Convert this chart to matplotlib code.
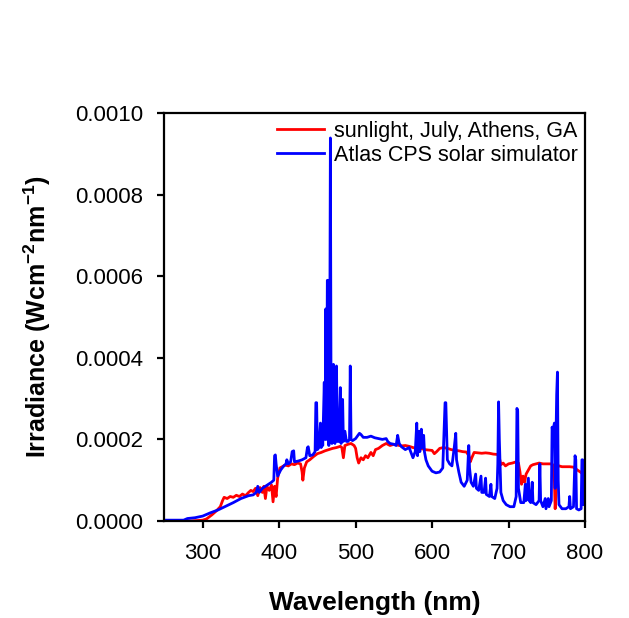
import matplotlib
matplotlib.use("Agg")
import matplotlib.pyplot as plt
import numpy as np

plt.rcParams['font.family'] = ['Liberation Sans', 'DejaVu Sans']
plt.rcParams['mathtext.fontset'] = 'custom'
plt.rcParams['mathtext.bf'] = 'Liberation Sans:bold'
plt.rcParams['mathtext.rm'] = 'Liberation Sans:bold'
plt.rcParams['mathtext.default'] = 'bf'

# Sunlight, July, Athens GA  (wavelength nm, irradiance in 1e-4 W cm^-2 nm^-1)
sun_wl = [250, 285, 300, 305, 312, 318, 323, 326, 328, 332, 336, 340, 344, 348, 352, 356, 360, 363, 366, 369,
          372, 375, 378, 380, 382, 384, 387, 390, 392, 394, 396, 398, 401, 404, 408, 412, 416, 420, 424, 428,
          430, 431, 433, 436, 440, 445, 450, 455, 460, 465, 470, 475, 480, 482, 484, 486, 490, 494, 498, 500,
          502, 504, 507, 510, 513, 516, 520, 523, 526, 530, 535, 540, 545, 550, 555, 560, 565, 570, 575, 580,
          585, 590, 595, 600, 603, 606, 610, 615, 620, 625, 630, 635, 640, 645, 648, 650, 652, 655, 660, 665,
          670, 675, 680, 686, 688, 690, 693, 696, 700, 705, 710, 713, 715, 717, 719, 721, 723, 726, 729, 732,
          736, 740, 745, 750, 755, 758, 760, 761, 762, 763, 766, 770, 775, 780, 785, 790, 794, 797, 800]
sun_val = [0.0, 0.0, 0.02, 0.05, 0.15, 0.25, 0.35, 0.5, 0.58, 0.55, 0.6, 0.58, 0.63, 0.6, 0.66, 0.62, 0.7, 0.75, 0.72, 0.8,
           0.62, 0.82, 0.7, 0.85, 0.55, 0.85, 0.75, 0.88, 0.47, 0.85, 0.6, 1.05, 1.3, 1.33, 1.37, 1.35, 1.4, 1.38, 1.42, 1.4,
           1.2, 1.0, 1.3, 1.45, 1.5, 1.58, 1.65, 1.68, 1.72, 1.75, 1.78, 1.8, 1.83, 1.8, 1.55, 1.85, 1.88, 1.9, 1.85, 1.78,
           1.55, 1.42, 1.55, 1.5, 1.6, 1.55, 1.68, 1.6, 1.75, 1.78, 1.85, 1.9, 1.85, 1.88, 1.86, 1.84, 1.85, 1.83, 1.8, 1.78,
           1.78, 1.75, 1.74, 1.73, 1.65, 1.7, 1.78, 1.8, 1.78, 1.75, 1.73, 1.72, 1.7, 1.69, 1.6, 1.45, 1.55, 1.68, 1.67, 1.66,
           1.67, 1.66, 1.64, 1.63, 1.55, 1.38, 1.42, 1.35, 1.4, 1.42, 1.45, 1.42, 1.2, 0.9, 1.1, 0.95, 1.15, 1.25, 1.35, 1.38,
           1.4, 1.42, 1.4, 1.4, 1.4, 1.38, 1.0, 0.3, 0.6, 1.35, 1.35, 1.33, 1.33, 1.33, 1.32, 1.25, 1.2, 1.15, 1.1]

# Atlas CPS solar simulator
sim_wl = [250, 275, 280, 290, 300, 310, 320, 330, 340, 350, 360, 366, 370, 372, 374, 378, 382, 386, 390, 393,
          394, 395, 396, 398, 402, 406, 409, 410, 412, 415, 417, 419, 420, 425, 430, 435, 437, 438, 440, 444,
          447, 448, 449, 450, 452, 454, 455, 456, 457, 459, 460, 461, 462, 463, 464, 465, 466, 467, 468, 469,
          471, 472, 473, 475, 476, 477, 478, 480, 481, 483, 484, 486, 488, 490, 492, 493, 494, 496, 500, 505,
          507, 510, 515, 520, 525, 530, 535, 540, 542, 545, 550, 553, 555, 557, 560, 565, 570, 573, 575, 578,
          580, 581, 583, 584, 586, 587, 589, 590, 592, 595, 600, 605, 610, 614, 617, 618, 620, 623, 626, 629,
          631, 632, 635, 638, 642, 646, 648, 649, 651, 654, 657, 658, 661, 664, 665, 668, 670, 671, 675, 677,
          678, 682, 685, 686, 687, 688, 690, 693, 697, 702, 707, 710, 711, 712, 713, 716, 720, 722, 723, 726,
          727, 729, 731, 732, 736, 740, 741, 742, 745, 748, 749, 752, 753, 756, 757, 758, 760, 761, 763, 764,
          765, 766, 770, 775, 779, 780, 781, 785, 787, 788, 789, 792, 795, 796, 797, 798, 800]
sim_val = [0.02, 0.02, 0.06, 0.08, 0.12, 0.2, 0.27, 0.36, 0.45, 0.55, 0.62, 0.64, 0.7, 0.85, 0.7, 0.8, 0.85, 0.9, 0.95, 1.0,
           1.6, 1.62, 1.4, 1.1, 1.25, 1.35, 1.4, 1.5, 1.4, 1.45, 1.7, 1.72, 1.45, 1.47, 1.5, 1.55, 1.8, 1.82, 1.6, 1.62,
           1.7, 2.9, 2.9, 1.75, 1.8, 2.4, 1.8, 2.3, 1.85, 3.4, 2.0, 5.2, 2.0, 5.9, 5.9, 1.85, 3.0, 9.39, 2.0, 1.9,
           3.84, 1.95, 1.9, 3.8, 1.95, 2.5, 1.95, 3.27, 1.9, 2.98, 1.95, 2.2, 1.95, 1.95, 2.0, 3.8, 2.0, 1.97, 2.02, 2.15,
           2.12, 2.05, 2.05, 2.08, 2.04, 2.02, 2.0, 2.02, 1.95, 1.9, 1.88, 1.85, 2.1, 1.9, 1.82, 1.75, 1.8, 1.65, 1.55, 1.7,
           2.4, 1.6, 2.2, 1.7, 2.25, 1.8, 2.1, 1.7, 1.5, 1.35, 1.22, 1.18, 1.2, 1.3, 2.9, 2.9, 1.5, 1.4, 1.35, 1.8,
           2.15, 1.5, 1.2, 0.95, 0.85, 1.0, 1.85, 1.3, 0.95, 0.85, 1.15, 0.8, 0.75, 1.1, 0.7, 0.7, 1.05, 0.65, 0.6, 0.9,
           0.6, 0.55, 0.8, 1.4, 2.92, 2.0, 0.7, 0.5, 0.4, 0.35, 0.35, 0.6, 2.76, 2.7, 0.8, 0.45, 0.45, 0.9, 0.5, 1.05,
           0.5, 0.45, 0.95, 0.45, 0.4, 0.5, 1.4, 0.5, 0.35, 0.55, 0.3, 0.55, 0.35, 0.5, 2.3, 2.2, 2.4, 0.8, 3.1, 3.65,
           1.0, 0.4, 0.3, 0.3, 0.35, 0.6, 0.3, 0.35, 1.6, 1.5, 0.3, 0.27, 0.3, 1.5, 1.5, 0.4, 0.4]

x_ticks = [300, 400, 500, 600, 700, 800]
y_ticks = [0.0, 0.0002, 0.0004, 0.0006, 0.0008, 0.0010]
y_tick_labels = ["0.0000", "0.0002", "0.0004", "0.0006", "0.0008", "0.0010"]

fig = plt.figure(figsize=(6.29, 6.18), dpi=100)
ax = fig.add_axes([0.2615, 0.157, 0.6685, 0.660])

ax.plot(sun_wl, np.array(sun_val) * 1e-4, color='#ff0000', lw=2.0, label='sunlight, July, Athens, GA')
ax.plot(sim_wl, np.array(sim_val) * 1e-4, color='#0000ff', lw=2.0, label='Atlas CPS solar simulator')

ax.set_xlim(250, 800)
ax.set_ylim(0, 0.001)
ax.set_xticks(x_ticks)
ax.set_xticklabels([str(t) for t in x_ticks])
ax.set_yticks(y_ticks)
ax.set_yticklabels(y_tick_labels)

for s in ax.spines.values():
    s.set_linewidth(1.6)
ax.tick_params(axis='both', direction='out', length=5, width=1.6, labelsize=16)
ax.tick_params(axis='y', pad=10.5)
ax.tick_params(axis='x', pad=11)
ax.tick_params(top=False, right=False)

ax.set_xlabel('Wavelength (nm)', fontsize=19, fontweight='bold', labelpad=19)
ax.set_ylabel('Irradiance (Wcm$^{-2}$nm$^{-1}$)', fontsize=18, fontweight='bold', labelpad=16)

leg = ax.legend(loc='upper right', bbox_to_anchor=(1.0, 1.0), frameon=False, fontsize=15.5,
                handlelength=2.2, handletextpad=0.45, labelspacing=0.15, borderaxespad=0.15, borderpad=0.2)

fig.savefig('out.png', dpi=100)
